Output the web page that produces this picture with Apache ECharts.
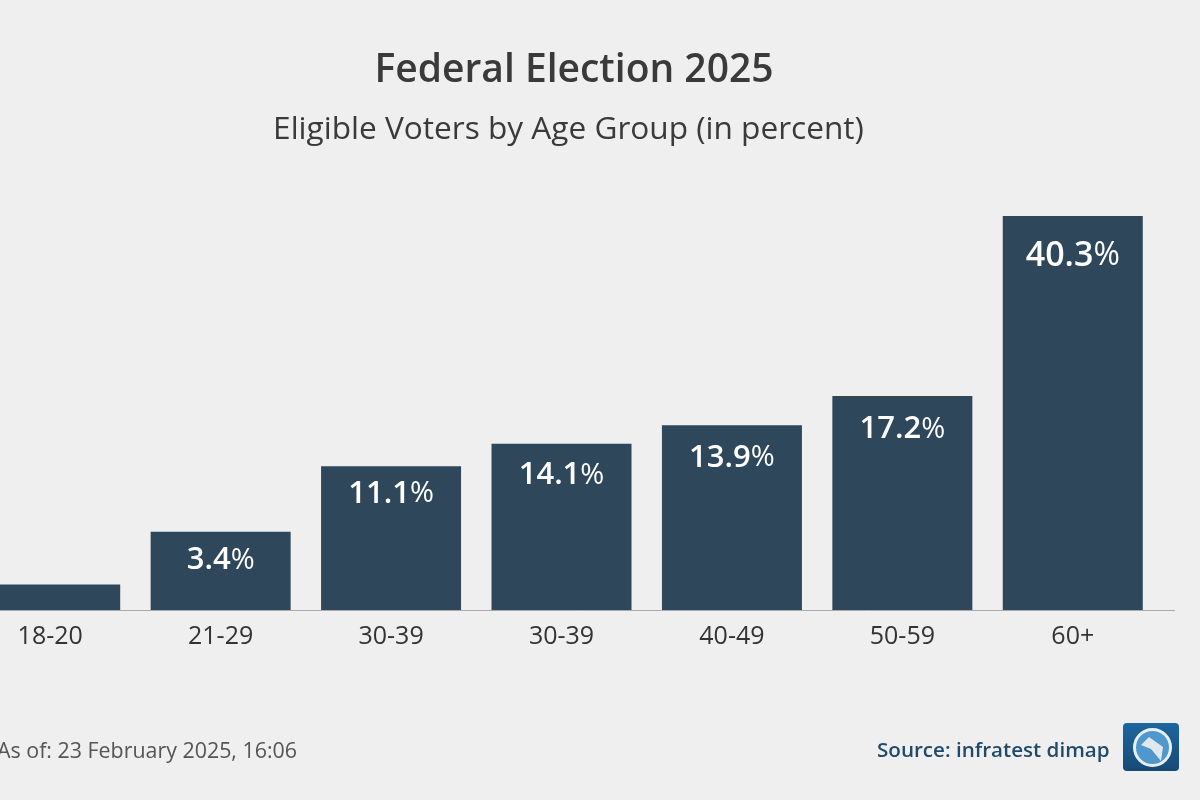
<!DOCTYPE html>
<html><head><meta charset="utf-8">
<style>html,body{margin:0;padding:0;background:#efefef}#c{width:1200px;height:800px}</style>
<script src="https://cdn.jsdelivr.net/npm/echarts@6/dist/echarts.min.js"></script>
</head><body><div id="c"></div>
<script>
const categories = ['18-20','21-29','30-39','30-39','40-49','50-59','60+'];
// Bar heights as drawn in the picture (they do not follow the printed labels)
const drawnHeights = [2.6, 8.0, 14.7, 17.0, 18.9, 21.9, 40.3];
// Labels as printed; the first bar has no printed label
const printedLabels = [null, 3.4, 11.1, 14.1, 13.9, 17.2, 40.3];

const chart = echarts.init(document.getElementById('c'), null, {renderer:'canvas'});
const font = '"Open Sans","Noto Sans",sans-serif';
const labelDistance = [0, 13, 12, 16, 17, 18, 23];
const barData = drawnHeights.map((v,i)=>({
  value:v,
  label:{distance:labelDistance[i]}
}));
chart.setOption({
  animation:false,
  backgroundColor:'#efefef',
  title:[
    {text:'Federal Election 2025',left:569,top:46,textAlign:'center',textStyle:{fontFamily:font,fontSize:39,fontWeight:600,color:'#3a3a3a'}},
    {text:'Eligible Voters by Age Group (in percent)',left:563.5,top:109,textAlign:'center',textStyle:{fontFamily:font,fontSize:31.6,fontWeight:500,color:'#3a3a3a'}},
    {text:'As of: 23 February 2025, 16:06',left:-8,top:736,textStyle:{fontFamily:font,fontSize:21.4,fontWeight:400,color:'#555'}},
    {text:'Source: infratest dimap',left:872,top:736,textStyle:{fontFamily:font,fontSize:20.6,fontWeight:600,color:'#1f4a6b'}}
  ],
  grid:{left:-35,width:1193,top:216,bottom:190,outerBoundsMode:'none'},
  xAxis:{type:'category',data:categories,
    axisLine:{show:true,lineStyle:{color:'#aaaaaa',width:1}},axisTick:{show:false},
    axisLabel:{margin:14,fontFamily:font,fontSize:25,color:'#333'}},
  yAxis:{type:'value',min:0,max:40.3,show:false},
  series:[{type:'bar',barWidth:140,data:barData,
    itemStyle:{color:'#2e475b'},
    label:{show:true,position:'insideTop',
      formatter:p=>{
        const v=printedLabels[p.dataIndex];
        if(v==null) return '';
        const big=p.dataIndex===6;
        return `{${big?'nb':'n'}|${v.toFixed(1)}}{${big?'pb':'p'}|%}`;
      },
      rich:{
        n:{fontFamily:font,fontSize:31,fontWeight:600,color:'#fff'},
        p:{fontFamily:font,fontSize:29,fontWeight:400,color:'#fff'},
        nb:{fontFamily:font,fontSize:34,fontWeight:600,color:'#fff'},
        pb:{fontFamily:font,fontSize:32,fontWeight:400,color:'#fff'}
      }}}],
  graphic:[
    {type:'line',shape:{x1:1158,y1:610.5,x2:1175,y2:610.5},style:{stroke:'#aaaaaa',lineWidth:1}},
    {type:'rect',left:1123,top:723,shape:{width:56,height:48,r:4},
      style:{fill:new echarts.graphic.LinearGradient(0,0,0,1,[{offset:0,color:'#1d669f'},{offset:1,color:'#174a75'}])}},
    {type:'circle',left:1133,top:728,shape:{r:18},style:{fill:'#4f97cc',stroke:'#e8f0f5',lineWidth:3}},
    {type:'polygon',left:1141,top:737,shape:{points:[[8,0],[22,10],[20,24],[10,12],[0,8]]},style:{fill:'#dfe8ee'}}
  ]
});
</script></body></html>
